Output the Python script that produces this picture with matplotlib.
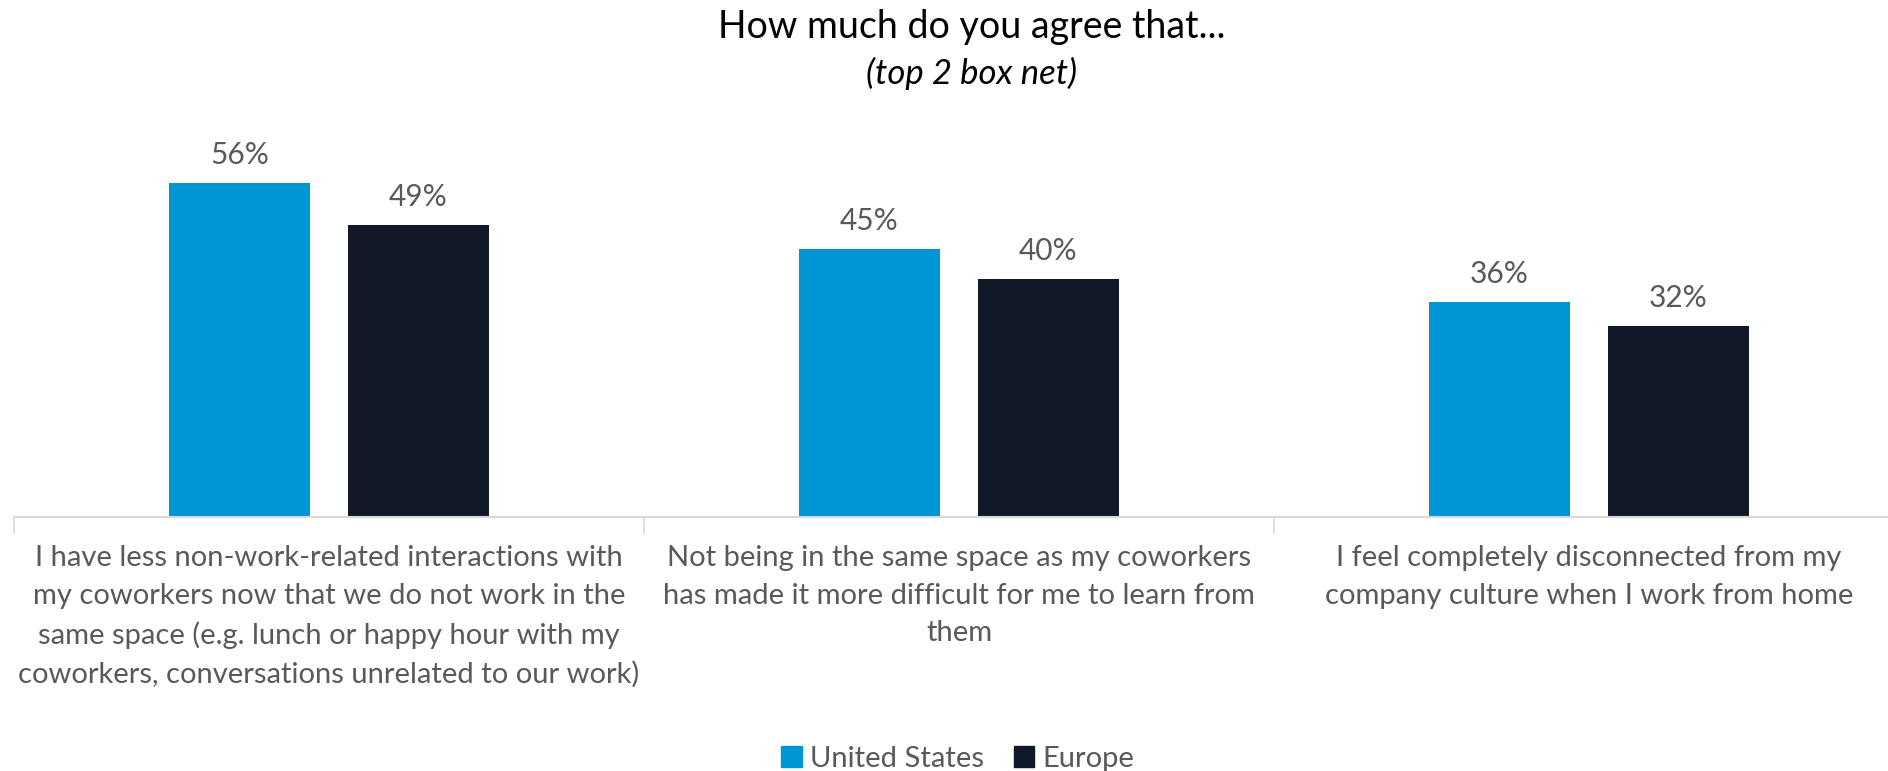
import matplotlib
matplotlib.use('Agg')
import matplotlib.pyplot as plt
from matplotlib.patches import Patch
import numpy as np

plt.rcParams['font.family'] = ['Lato', 'DejaVu Sans']

# Survey results (top 2 box, %)
categories = [
    'I have less non-work-related interactions with\nmy coworkers now that we do not work in the\n'
    'same space (e.g. lunch or happy hour with my\ncoworkers, conversations unrelated to our work)',
    'Not being in the same space as my coworkers\nhas made it more difficult for me to learn from\nthem',
    'I feel completely disconnected from my\ncompany culture when I work from home',
]
us_values = [56, 45, 36]
europe_values = [49, 40, 32]
series_names = ['United States', 'Europe']
series_colors = ['#0096D6', '#111827']

TEXT_GRAY = '#595959'
AXIS_GRAY = '#D9D9D9'

fig = plt.figure(figsize=(18.88, 7.71), dpi=100)
# axes spans one category width per group; last boundary runs past the right edge
ax = fig.add_axes([14 / 1888, 254 / 771, 1890 / 1888, 357.6 / 771])

x = np.arange(len(categories))
bar_w = 0.224
offset = 0.142

bars_us = ax.bar(x - offset, us_values, width=bar_w, color=series_colors[0])
bars_eu = ax.bar(x + offset, europe_values, width=bar_w, color=series_colors[1])

for bars, vals in [(bars_us, us_values), (bars_eu, europe_values)]:
    for b, v in zip(bars, vals):
        ax.annotate(f'{v}%', (b.get_x() + b.get_width() / 2, v),
                    xytext=(0, 13.7), textcoords='offset points',
                    ha='center', va='baseline', fontsize=21.5, color=TEXT_GRAY)

ax.set_xlim(-0.5, len(categories) - 0.5)
ax.set_ylim(0, 60)

for side in ['top', 'right', 'left']:
    ax.spines[side].set_visible(False)
ax.spines['bottom'].set_color(AXIS_GRAY)
ax.spines['bottom'].set_linewidth(1.5)
ax.set_yticks([])

# labels at category centres, tick marks at category boundaries
ax.set_xticks(x)
ax.set_xticklabels(categories, fontsize=21, color=TEXT_GRAY, linespacing=1.56)
ax.tick_params(axis='x', which='major', length=0, pad=20)
ax.set_xticks(np.arange(len(categories) + 1) - 0.5, minor=True)
ax.tick_params(axis='x', which='minor', length=12.2, width=1.2, color=AXIS_GRAY)

fig.text(972 / 1888, 1 - 27 / 771, 'How much do you agree that...', ha='center', va='center',
         fontsize=27, color='black')
fig.text(972 / 1888, 1 - 73 / 771, '(top 2 box net)', ha='center', va='center',
         fontsize=25, style='italic', color='black')

handles = [Patch(color=c, label=n) for c, n in zip(series_colors, series_names)]
fig.legend(handles=handles, loc='lower center', bbox_to_anchor=(958 / 1888, -0.035), ncol=2,
           frameon=False, fontsize=21, labelcolor=TEXT_GRAY, handlelength=0.7,
           handleheight=0.7, handletextpad=0.3, columnspacing=1.0)

plt.savefig('out.png', dpi=100)
plt.close()
